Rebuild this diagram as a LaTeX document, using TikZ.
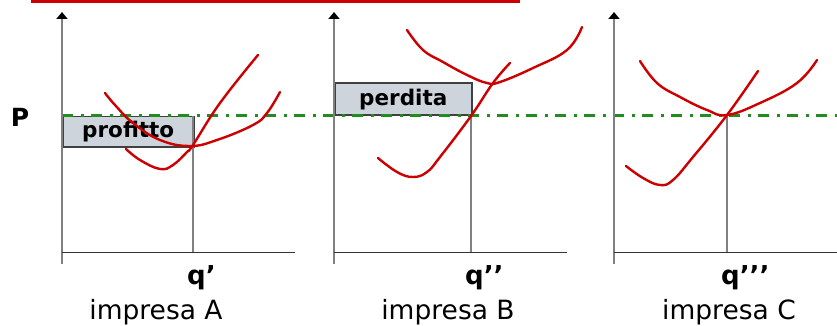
\documentclass[tikz,border=0pt]{standalone}
\usepackage{fontspec}
\setmainfont{DejaVu Sans}
\usetikzlibrary{arrows.meta}

\definecolor{costred}{HTML}{CC0000}
\definecolor{pricegreen}{HTML}{228B22}
\definecolor{boxgray}{HTML}{CDD4DC}

\tikzset{
  cost/.style={costred,line width=2.4pt,line cap=round},
  yaxis/.style={gray,line width=1.8pt},
  xaxis/.style={black!80,line width=1pt},
  price/.style={pricegreen,line width=3pt,dash pattern=on 11pt off 8pt on 3pt off 7pt},
  gapbox/.style={draw=black!75,fill=boxgray,line width=1.5pt,inner sep=0pt,
    font=\bfseries\fontsize{21.5}{24}\selectfont},
  qlab/.style={font=\bfseries\fontsize{26}{30}\selectfont,inner sep=0pt,anchor=base west},
  firmlab/.style={font=\fontsize{26.5}{30}\selectfont,inner sep=0pt,anchor=base}
}

\begin{document}
\begin{tikzpicture}[x=1pt,y=-1pt]
  \useasboundingbox (0,0) rectangle (837,326);

  % title rule
  \coordinate (rulestart) at (31,1.5);
  \coordinate (ruleend) at (520,1.5);
  \draw[costred,line width=3pt] (rulestart) -- (ruleend);

  % profit and loss areas
  \node[gapbox,anchor=north west,minimum width=131pt,minimum height=30pt] (profit) at (62,116) {profitto};
  \node[gapbox,anchor=south west,minimum width=137pt,minimum height=32pt] (loss) at (334,116) {perdita};

  % price line
  \coordinate (pstart) at (62,116);
  \coordinate (pend) at (837,116);
  \draw[price] (pstart) -- (pend);
  \node[font=\bfseries\fontsize{25}{30}\selectfont,inner sep=0pt] (P) at (20,117) {P};

  \foreach \f/\ox/\xend/\qx/\fx/\q in {A/62/295/193/156/{q’},B/334/567/471/448/{q’’},C/614/837/727/729/{q’’’}} {
    \coordinate (low\f) at (\ox,264);
    \coordinate (tip\f) at (\ox,12);
    \coordinate (o\f) at (\ox,252);
    \coordinate (end\f) at (\xend,252);
    \coordinate (q\f) at (\qx,252);
    \coordinate (p\f) at (\qx,116);
    \draw[yaxis,-{Triangle[black,width=11pt,length=7pt]}] (low\f) -- (tip\f);
    \draw[xaxis] (o\f) -- (end\f);
    \draw[yaxis] (q\f) -- (p\f);
    \node[qlab] (qlab\f) at (\qx-6,284) {\q};
    \node[firmlab] (firm\f) at (\fx,319) {impresa \f};
  }

  % cost curves
  \draw[cost] plot[smooth,tension=.7] coordinates {(126,149) (140,160) (160,169) (173,165) (187,152) (193,145) (220,103) (258,55)};
  \draw[cost] plot[smooth,tension=.7] coordinates {(105,93) (115,105) (133,123) (160,140) (190,146) (217,140) (253,125) (267,113) (280,92)};

  \draw[cost] plot[smooth,tension=.7] coordinates {(378,158) (397,172) (413,177) (427,172) (440,157) (471,116) (493,83) (510,63)};
  \draw[cost] plot[smooth,tension=.7] coordinates {(407,30) (423,50) (443,62) (467,75) (487,83) (500,82) (533,68) (567,50) (582,27)};

  \draw[cost] plot[smooth,tension=.7] coordinates {(626,166) (643,178) (660,185) (673,180) (693,157) (727,115) (758,71)};
  \draw[cost] plot[smooth,tension=.7] coordinates {(640,61) (657,83) (680,97) (707,110) (727,115) (760,103) (797,83) (817,60)};
\end{tikzpicture}
\end{document}
